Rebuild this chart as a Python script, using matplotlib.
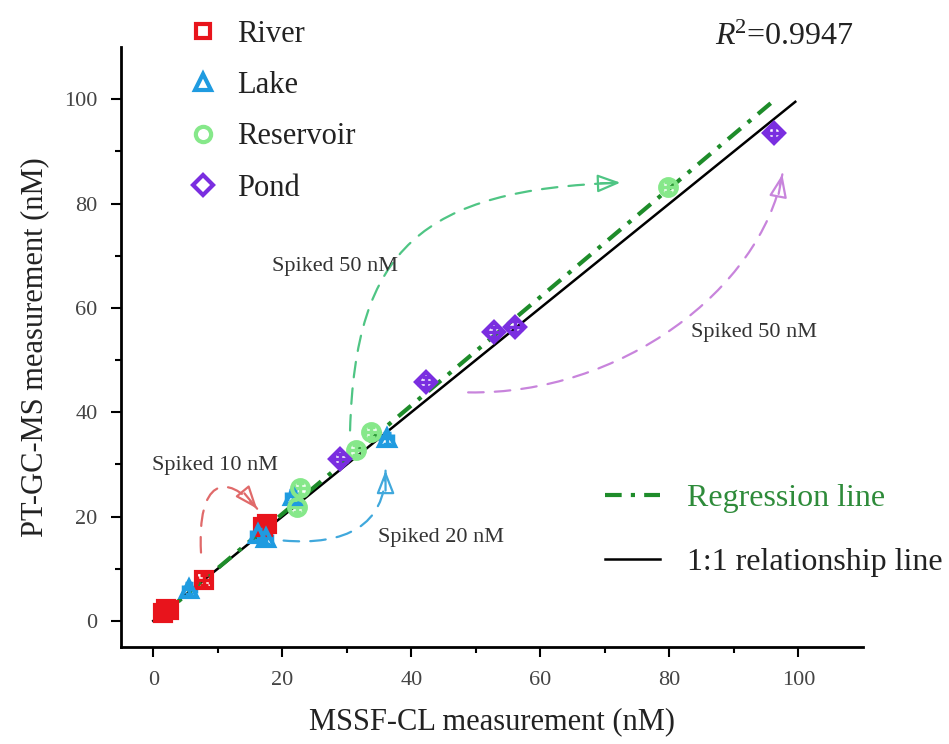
import matplotlib
matplotlib.use("Agg")
import matplotlib.pyplot as plt
import numpy as np
from matplotlib.patches import FancyArrowPatch
from matplotlib.path import Path
from matplotlib.lines import Line2D

plt.rcParams['font.family'] = ['Liberation Serif', 'DejaVu Serif']
plt.rcParams['mathtext.fontset'] = 'custom'
plt.rcParams['mathtext.rm'] = 'Liberation Serif'
plt.rcParams['mathtext.it'] = 'Liberation Serif:italic'

# ---- data ----
river_x = [1.5, 2.0, 2.5, 7.8, 17.0, 17.6]
river_y = [1.6, 2.2, 2.0, 7.8, 18.0, 18.6]
lake_x = [5.6, 16.2, 17.4, 21.6, 36.2]
lake_y = [6.2, 16.6, 15.8, 24.0, 35.0]
res_x = [22.2, 22.8, 31.4, 33.8, 79.8]
res_y = [21.8, 25.4, 32.8, 36.2, 83.2]
pond_x = [29.0, 42.2, 52.8, 56.0, 96.2]
pond_y = [31.0, 45.8, 55.4, 56.4, 93.6]
err = 1.0

reg_slope = 1.04
reg_intercept = -0.3
reg_x_range = [0.8, 96.4]
one_to_one_range = [0.0, 99.5]

x_ticks = [0, 20, 40, 60, 80, 100]
y_ticks = [0, 20, 40, 60, 80, 100]
r2_text = r'$R^{\!2}$=0.9947'

c_river = '#e8141c'
c_lake = '#1f9be0'
c_res = '#86e88a'
c_pond = '#7a2ee0'
c_reg = '#1e8c2a'

fig = plt.figure(figsize=(9.49, 7.44), dpi=100)
ax = fig.add_axes([0.1275, 0.1304, 0.7819, 0.8064])
ax.set_xlim(-5, 110)
ax.set_ylim(-5, 110)

for s in ['top', 'right']:
    ax.spines[s].set_visible(False)
for s in ['left', 'bottom']:
    ax.spines[s].set_linewidth(2.0)

ax.set_xticks(x_ticks)
ax.set_yticks(y_ticks)
ax.set_xticks(np.arange(10, 110, 20), minor=True)
ax.set_yticks(np.arange(10, 110, 20), minor=True)
ax.tick_params(which='major', direction='out', length=7, width=1.5, labelsize=16, pad=10,
               labelcolor='#444444')
ax.tick_params(which='minor', direction='out', length=4, width=1.5)

ax.set_xlabel('MSSF-CL measurement (nM)', fontsize=22, labelpad=13, color='#222222')
ax.set_ylabel('PT-GC-MS measurement (nM)', fontsize=22, labelpad=11, color='#222222')

# lines
ox = np.array(one_to_one_range)
ax.plot(ox, ox, color='black', lw=1.8, zorder=3)
rx = np.array(reg_x_range)
ax.plot(rx, reg_slope * rx + reg_intercept, color=c_reg, lw=3.0,
        dashes=(4, 2.2, 1, 2.2), zorder=4)

def series(x, y, c, m, ms):
    ax.errorbar(x, y, xerr=err, yerr=err, fmt='none', ecolor=c, elinewidth=2.5,
                capsize=3, capthick=2.5, zorder=5)
    ax.plot(x, y, linestyle='none', marker=m, ms=ms, mfc='none', mec=c, mew=3.0, zorder=6)

series(river_x, river_y, c_river, 's', 11)
series(lake_x, lake_y, c_lake, '^', 12)
series(res_x, res_y, c_res, 'o', 12)
series(pond_x, pond_y, c_pond, 'D', 10)

# curved dashed arrows (cubic Bezier guides)
def carrow(pts, color):
    path = Path(pts, [Path.MOVETO, Path.CURVE4, Path.CURVE4, Path.CURVE4])
    body = FancyArrowPatch(path=path, arrowstyle='-', color=color, lw=1.6,
                           linestyle=(0, (7, 5)), zorder=2)
    ax.add_patch(body)
    # solid open arrow head, direction from last control point
    p2 = ax.transData.transform(pts[2])
    p3 = ax.transData.transform(pts[3])
    d = (p3 - p2) / np.hypot(*(p3 - p2))
    back = ax.transData.inverted().transform(p3 - d * 20)
    ax.annotate('', xy=pts[3], xytext=back,
                arrowprops=dict(arrowstyle='-|>,head_length=1.4,head_width=0.55',
                                lw=1.6, color=color, fc='none', shrinkA=0, shrinkB=0),
                zorder=2)

carrow([(7.4, 13.1), (6.8, 26.9), (11.2, 28.8), (16.1, 21.5)], '#e06a6a')
carrow([(20.2, 15.4), (29.8, 14.4), (36.0, 18.3), (36.0, 28.8)], '#40a8dc')
carrow([(30.5, 36.5), (31.3, 71.2), (41.4, 82.7), (72.4, 84.0)], '#4fc584')
carrow([(48.8, 43.8), (72.4, 43.3), (94.1, 63.5), (97.5, 85.6)], '#c884dc')

ax.text(-0.15, 29.8, 'Spiked 10 nM', fontsize=16, color='#333333', va='center')
ax.text(34.9, 16.0, 'Spiked 20 nM', fontsize=16, color='#333333', va='center')
ax.text(18.4, 67.9, 'Spiked 50 nM', fontsize=16, color='#333333', va='center')
ax.text(83.3, 55.2, 'Spiked 50 nM', fontsize=16, color='#333333', va='center')

ax.text(97.7, 111.9, r2_text, fontsize=23, color='#222222', ha='center', va='center')

# legend for series
h = [Line2D([], [], ls='none', marker='s', ms=10, mfc='none', mec=c_river, mew=3),
     Line2D([], [], ls='none', marker='^', ms=11, mfc='none', mec=c_lake, mew=3),
     Line2D([], [], ls='none', marker='o', ms=11, mfc='none', mec=c_res, mew=3),
     Line2D([], [], ls='none', marker='D', ms=10, mfc='none', mec=c_pond, mew=3)]
leg1 = fig.legend(h, ['River', 'Lake', 'Reservoir', 'Pond'], loc='upper left',
                  bbox_to_anchor=(0.185, 0.99), frameon=False, fontsize=22,
                  labelspacing=0.73, handletextpad=0.6, handlelength=1.0, borderaxespad=0)
for t in leg1.get_texts():
    t.set_color('#222222')

h2 = [Line2D([], [], color=c_reg, lw=3, dashes=(4, 2.2, 1, 2.2)),
      Line2D([], [], color='black', lw=1.8)]
leg2 = ax.legend(h2, ['Regression line', '1:1 relationship line'], loc='lower left',
                 bbox_to_anchor=(0.635, 0.095), frameon=False, fontsize=23,
                 labelspacing=1.1, handlelength=1.72, handletextpad=0.85, borderaxespad=0)
leg2.get_texts()[0].set_color('#2e8b3a')
leg2.get_texts()[1].set_color('#222222')

fig.savefig('out.png', dpi=100)
